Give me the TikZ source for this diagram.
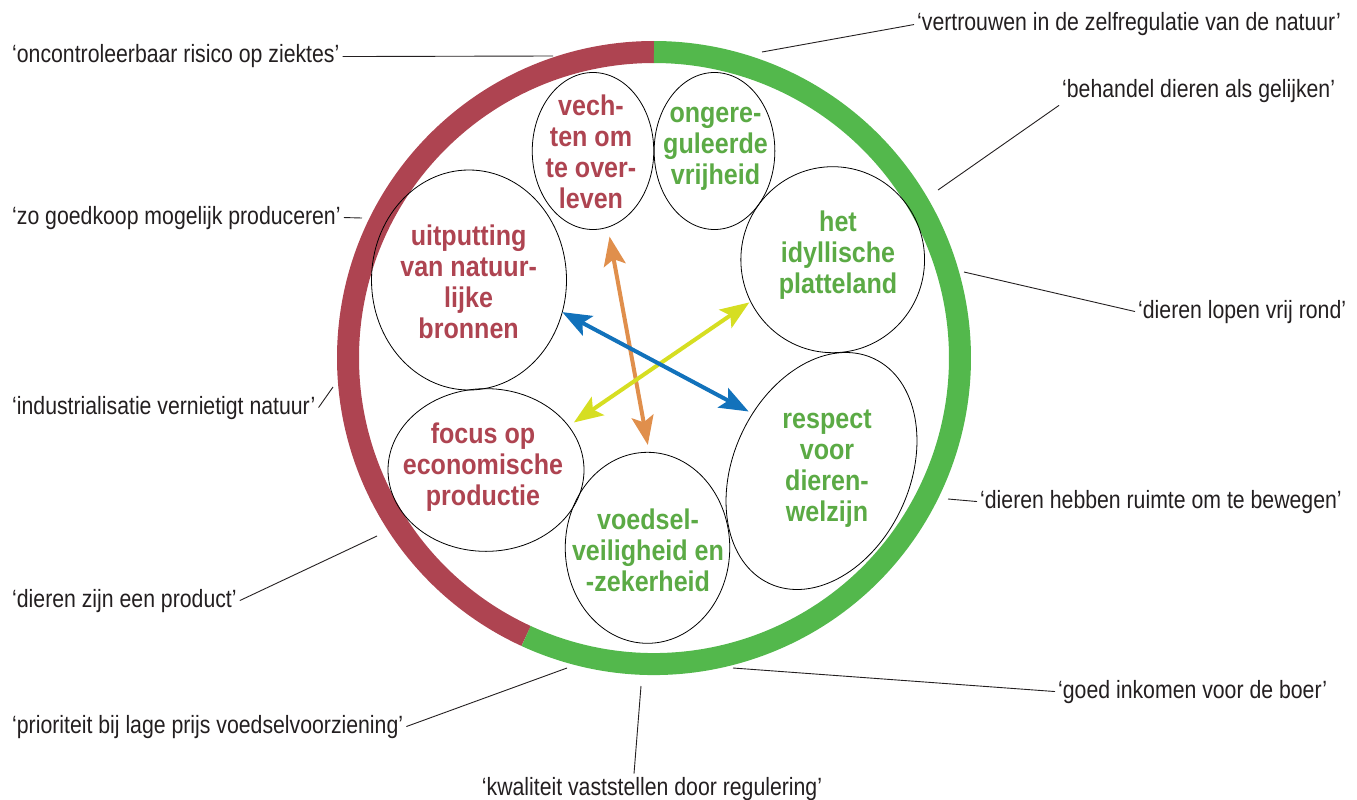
\documentclass[tikz,border=0pt]{standalone}
\usepackage{fontspec}
\setmainfont{Liberation Sans}[FakeStretch=0.85]
\newfontfamily\bubblefont{Liberation Sans}[FakeStretch=0.88]
\usepackage{tikz}
\usetikzlibrary{arrows.meta, shapes}

\definecolor{ringred}{HTML}{AE4451}
\definecolor{ringgreen}{HTML}{53B84C}
\definecolor{textgreen}{HTML}{5BAA45}
\definecolor{inkgray}{HTML}{231F20}
\definecolor{arroworange}{HTML}{E08F4C}
\definecolor{arrowblue}{HTML}{1272BB}
\definecolor{arrowyellow}{HTML}{D6DE22}

\begin{document}
\begin{tikzpicture}[x=1pt, y=-1pt,
    bubble style/.style={ellipse, draw=black, line width=0.8pt, inner sep=0pt, outer sep=0pt},
    red text/.style={font=\bubblefont\fontsize{28.5}{31}\selectfont\bfseries, text=ringred, align=center, inner sep=0pt},
    green text/.style={red text, text=textgreen},
    label style/.style={font=\fontsize{25}{30}\selectfont, text=inkgray, inner sep=3pt},
    leader style/.style={draw=inkgray, line width=0.9pt},
    arrow style/.style={line width=4pt, >={Stealth[length=29pt, width=22pt, inset=6pt]}, <->}
]
\useasboundingbox (0,0) rectangle (1357,800);

\coordinate (centre) at (654,358);
\draw[ringred, line width=22pt] (centre) ++(270:306) arc[start angle=270, end angle=114.7, radius=306];
\draw[ringgreen, line width=22pt] (centre) ++(114.7:306) arc[start angle=114.7, end angle=-90, radius=306];

\node[bubble style, minimum width=121.5, minimum height=157] (vechten) at (593,151) {};
\node[bubble style, minimum width=120.7, minimum height=157] (ongere) at (714.5,151) {};
\node[bubble style, minimum width=183.7, minimum height=186] (platteland) at (832.7,259.7) {};
\node[bubble style, minimum width=195, minimum height=220] (uitputting) at (469,280) {};
\node[bubble style, minimum width=196, minimum height=162.7] (focus) at (486,470) {};
\node[bubble style, minimum width=164.5, minimum height=191] (voedsel) at (647.5,547.8) {};
\node[bubble style, minimum width=176.4, minimum height=248, rotate=-24.8] (respect) at (821.5,471) {};

\node[red text] (vechtentext) at (591,152) {vech-\\ten om\\te over-\\leven};
\node[green text] (ongeretext) at (715.5,149) {ongere-\\guleerde\\vrijheid};
\node[green text] (plattelandtext) at (838,255) {het\\idyllische\\platteland};
\node[red text] (uitputtingtext) at (468.6,281.5) {uitputting\\van natuur-\\lijke\\bronnen};
\node[red text] (focustext) at (483,467.6) {focus op\\economische\\productie};
\node[green text] (voedseltext) at (648,550) {voedsel-\\veiligheid en\\-zekerheid};
\node[green text] (respecttext) at (827,469) {respect\\voor\\dieren-\\welzijn};

\draw[arrow style, arroworange, shorten <=9.6pt, shorten >=7.5pt] (vechten.-79) -- (voedsel.89);
\draw[arrow style, arrowyellow, shorten <=1.6pt, shorten >=6.5pt] (platteland.-153.5) -- (focus.28.6);
\draw[arrow style, arrowblue, shorten >=4.5pt] (uitputting.-19) -- (respect.165);

\node[label style, anchor=base west] (ziektes) at (9,63) {‘oncontroleerbaar risico op ziektes’};
\node[label style, anchor=base west] (goedkoop) at (9,224) {‘zo goedkoop mogelijk produceren’};
\node[label style, anchor=base west] (industrie) at (9,414) {‘industrialisatie vernietigt natuur’};
\node[label style, anchor=base west] (product) at (9,607) {‘dieren zijn een product’};
\node[label style, anchor=base west] (prijs) at (9,733) {‘prioriteit bij lage prijs voedselvoorziening’};
\node[label style, anchor=base] (kwaliteit) at (652,795) {‘kwaliteit vaststellen door regulering’};
\node[label style, anchor=base west] (inkomen) at (1055,698) {‘goed inkomen voor de boer’};
\node[label style, anchor=base west] (ruimte) at (977,508) {‘dieren hebben ruimte om te bewegen’};
\node[label style, anchor=base west] (vrij) at (1135,318) {‘dieren lopen vrij rond’};
\node[label style, anchor=base west] (gelijken) at (1059,97) {‘behandel dieren als gelijken’};
\node[label style, anchor=base west] (zelfregulatie) at (914,31) {‘vertrouwen in de zelfregulatie van de natuur’};

\coordinate (ziektes end) at (553,56);
\coordinate (goedkoop end) at (362,218);
\coordinate (industrie end) at (333,387);
\coordinate (product end) at (377,536);
\coordinate (prijs end) at (567,668);
\coordinate (kwaliteit end) at (641,686);
\coordinate (inkomen end) at (733,668);
\coordinate (ruimte end) at (948,499);
\coordinate (vrij end) at (964,272);
\coordinate (gelijken end) at (938,190);
\coordinate (zelfregulatie end) at (762,52);

\draw[leader style] (ziektes.east) -- (ziektes end);
\draw[leader style] (goedkoop.east) -- (goedkoop end);
\draw[leader style] (industrie.east) -- (industrie end);
\draw[leader style] (product.east) -- (product end);
\draw[leader style] (prijs.east) -- (prijs end);
\draw[leader style] ([xshift=-18pt]kwaliteit.north) -- (kwaliteit end);
\draw[leader style] (inkomen.west) -- (inkomen end);
\draw[leader style] (ruimte.west) -- (ruimte end);
\draw[leader style] (vrij.west) -- (vrij end);
\draw[leader style] (gelijken.south west) -- (gelijken end);
\draw[leader style] (zelfregulatie.west) -- (zelfregulatie end);
\end{tikzpicture}
\end{document}
